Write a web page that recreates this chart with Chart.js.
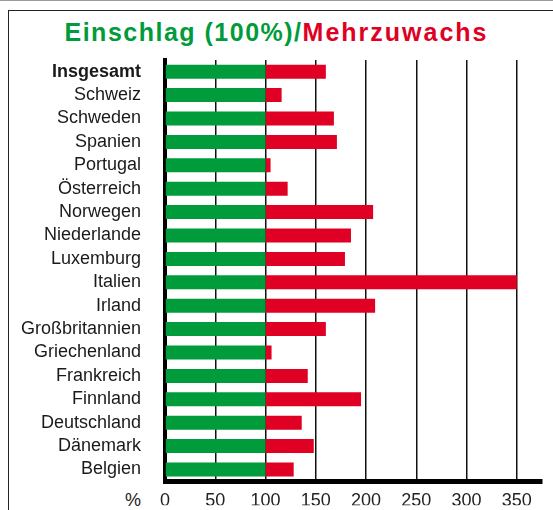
<!DOCTYPE html>
<html>
<head>
<meta charset="utf-8">
<script src="https://cdn.jsdelivr.net/npm/chart.js@4/dist/chart.umd.min.js"></script>
<style>
  html, body { margin: 0; padding: 0; background: #fff; }
  body { width: 553px; height: 510px; position: relative; overflow: hidden; font-family: "Liberation Sans", Arial, sans-serif; }
  #topline { position: absolute; left: 0; top: 0; width: 553px; height: 1px; background: #9a9a9a; }
  #frame { position: absolute; left: 8px; top: 10px; width: 600px; height: 600px; border: 1.5px solid #222; }
  #title { position: absolute; left: 0; width: 553px; top: 20px; text-align: center; font-size: 25px; line-height: 25px; font-weight: bold; letter-spacing: 1.5px; }
  #title .g { color: #009C3B; }
  #title .r { color: #E00024; letter-spacing: 2px; }
  #pct { position: absolute; left: 125px; top: 491px; font-size: 18px; line-height: 18px; color: #222; }
  /* y labels reserve ~35px below the plot, so the canvas runs a bit past the page */
  #wrap { position: absolute; left: 0; top: 0; width: 553px; height: 516px; }
</style>
</head>
<body>
<div id="topline"></div>
<div id="frame"></div>
<div id="title"><span class="g">Einschlag (100%)/</span><span class="r">Mehrzuwachs</span></div>
<div id="pct">%</div>
<div id="wrap"><canvas id="chart"></canvas></div>
<script>
const laender = ['Insgesamt', 'Schweiz', 'Schweden', 'Spanien', 'Portugal', 'Österreich',
  'Norwegen', 'Niederlande', 'Luxemburg', 'Italien', 'Irland', 'Großbritannien',
  'Griechenland', 'Frankreich', 'Finnland', 'Deutschland', 'Dänemark', 'Belgien'];
const einschlag = [100, 100, 100, 100, 100, 100, 100, 100, 100, 100, 100, 100, 100, 100, 100, 100, 100, 100];
const zuwachs = [160, 116, 168, 171, 105, 122, 207, 185, 179, 350, 209, 160, 106, 142, 195, 136, 148, 128];
const xTicks = [0, 50, 100, 150, 200, 250, 300, 350];

const GREEN = '#009C3B';
const RED = '#E00024';

new Chart(document.getElementById('chart'), {
  type: 'bar',
  data: {
    labels: laender,
    datasets: [
      {
        label: 'Einschlag',
        data: einschlag.map(v => [0, v]),
        backgroundColor: GREEN,
        grouped: false,
        barPercentage: 0.6,
        categoryPercentage: 1
      },
      {
        label: 'Mehrzuwachs',
        data: zuwachs.map((v, i) => [einschlag[i], v]),
        backgroundColor: RED,
        grouped: false,
        barPercentage: 0.6,
        categoryPercentage: 1
      }
    ]
  },
  options: {
    indexAxis: 'y',
    responsive: true,
    maintainAspectRatio: false,
    animation: false,
    layout: { padding: { top: 60, right: 11, bottom: 0, left: 0 } },
    plugins: { legend: { display: false }, tooltip: { enabled: false } },
    scales: {
      x: {
        min: 0,
        max: 375,
        z: 1,
        afterBuildTicks: scale => {
          scale.ticks = xTicks.map(v => ({ value: v }));
        },
        afterFit: scale => { scale.height = 24; },
        grid: { color: '#111', lineWidth: 1.5, drawTicks: false },
        border: { display: true, color: '#000', width: 5 },
        ticks: {
          padding: 9,
          color: '#222',
          font: { family: 'Liberation Sans', size: 18 }
        }
      },
      y: {
        z: 1,
        afterFit: scale => { scale.width = 165; },
        grid: { display: false, drawTicks: false },
        border: { display: true, color: '#000', width: 4 },
        ticks: {
          padding: 24,
          color: '#1a1a1a',
          autoSkip: false,
          font: ctx => ({ family: 'Liberation Sans', size: 18, weight: ctx.index === 0 ? 'bold' : 'normal' })
        }
      }
    }
  }
});
</script>
</body>
</html>
